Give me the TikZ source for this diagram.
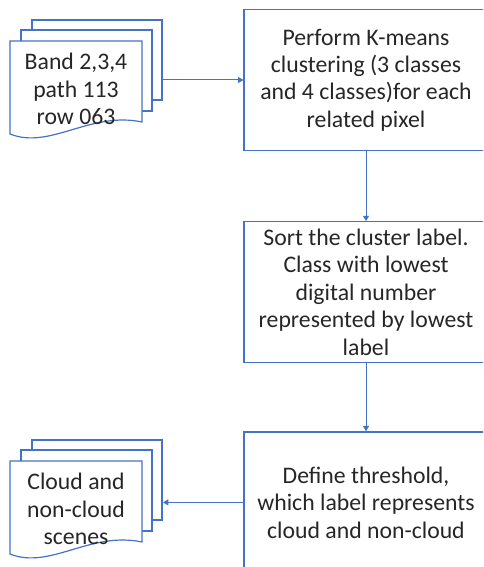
\documentclass[tikz,border=0pt]{standalone}
\usepackage{fontspec}
\setmainfont{Carlito}
\usetikzlibrary{arrows.meta,positioning}
\definecolor{officeblue}{HTML}{4472C4}
\definecolor{textgray}{HTML}{262626}

\tikzset{
  procbox/.style={draw=officeblue, line width=0.9pt, minimum width=183pt,
    minimum height=105.75pt, inner sep=0pt, align=center, text=textgray,
    font=\fontsize{17.8}{20.6}\selectfont},
  flow/.style={draw=officeblue, line width=0.75pt, -{Triangle[length=4pt,width=4.5pt]}},
  sheet/.style={draw=officeblue, line width=0.9pt, fill=white},
  sheettext/.style={align=center, inner sep=0pt, text=textgray,
    font=\fontsize{17.8}{20.6}\selectfont},
}

\begin{document}
\begin{tikzpicture}[x=0.75pt,y=-0.75pt]
            \clip (0,0) rectangle (483,567);

            % process steps
            \node[procbox] (kmeans) at (366,80) {Perform K-means\\clustering (3 classes\\and 4 classes)for each\\related pixel};
            \node[procbox, below=52.5pt of kmeans] (sort) {Sort the cluster label.\\Class with lowest\\digital number\\represented by lowest\\label};
            \node[procbox, below=51pt of sort] (thresh) {Define threshold,\\which label represents\\cloud and non-cloud};

            % input scenes
            \draw[sheet] (32,20) rectangle (162,100);
            \draw[sheet] (21,30) rectangle (152,111);
            \draw[sheet] (10,41) -- (142,41) -- (142,122) .. controls (90,111) and (50,150) .. (10,134) -- cycle;
            \node[sheettext] (band) at (76,89) {Band 2,3,4\\path 113\\row 063};
            \coordinate (band-e) at (162,80);

            % output scenes
            \begin{scope}[shift={(0,420)}]
            \draw[sheet] (32,20) rectangle (162,100);
            \draw[sheet] (21,30) rectangle (152,111);
            \draw[sheet] (10,41) -- (142,41) -- (142,122) .. controls (90,111) and (50,150) .. (10,134) -- cycle;
            \node[sheettext] (scenes) at (76,89) {Cloud and\\non-cloud\\scenes};
            \coordinate (scenes-e) at (163,80);
            \end{scope}

            \draw[flow] (band-e) -- (kmeans.west);
            \draw[flow] (kmeans) -- (sort);
            \draw[flow] (sort) -- (thresh);
            \draw[flow] (thresh.west) -- (thresh.west -| scenes-e);
        \end{tikzpicture}
\end{document}
